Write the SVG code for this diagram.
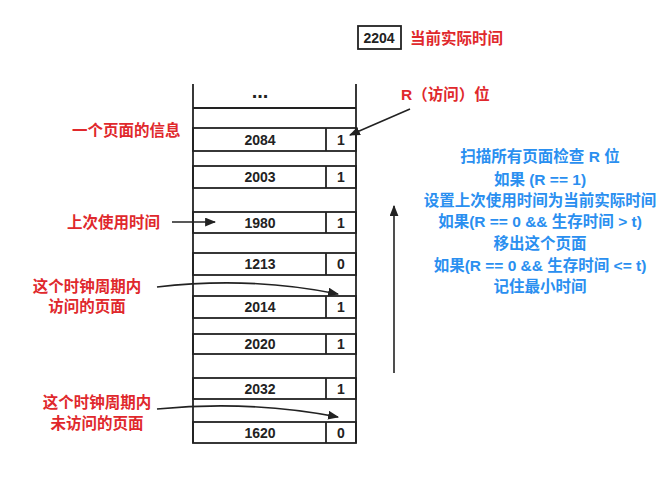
<svg xmlns="http://www.w3.org/2000/svg" width="661" height="481" viewBox="0 0 661 481">
<style>
.ln{stroke:#222;stroke-width:1.8;fill:none}
.num{font-family:"Liberation Sans",Arial,sans-serif;font-weight:bold;font-size:14px;fill:#222;text-anchor:middle}
.red{font-family:"Liberation Sans","Noto Sans CJK SC",sans-serif;font-weight:bold;font-size:15.5px;fill:#e0282c}
.blue{font-family:"Liberation Sans","Noto Sans CJK SC",sans-serif;font-weight:bold;font-size:15.5px;fill:#2a8ff0;text-anchor:middle}
.arr{stroke:#222;stroke-width:1.6;fill:none;marker-end:url(#ah)}
</style>
<defs>
<marker id="ah" viewBox="0 0 10 8" refX="9" refY="4" markerWidth="11" markerHeight="9" markerUnits="userSpaceOnUse" orient="auto">
<path d="M0,0 L10,4 L0,8 z" fill="#222"/>
</marker>
</defs>
<rect width="661" height="481" fill="#fff"/>
<g id="clock">
<text class="num" x="379" y="43">2204</text>
<rect x="358" y="26" width="43" height="23" fill="none" stroke="#222" stroke-width="1.8"/>
<text class="red" x="410" y="43.5">当前实际时间</text>
</g>
<g id="table">
<line class="ln" x1="193" y1="84" x2="193" y2="443"/>
<line class="ln" x1="356" y1="84" x2="356" y2="443"/>
<text class="num" x="260" y="98" style="font-size:20px">...</text>
<line class="ln" x1="193" y1="108" x2="356" y2="108"/>
</g>
<g id="row-2084"><rect class="ln" x="193" y="128" width="163" height="23"/><line class="ln" x1="326" y1="128" x2="326" y2="151"/><text class="num" x="260" y="145">2084</text><text class="num" x="341" y="145">1</text></g>
<g id="row-2003"><rect class="ln" x="193" y="166" width="163" height="22"/><line class="ln" x1="326" y1="166" x2="326" y2="188"/><text class="num" x="260" y="182">2003</text><text class="num" x="341" y="182">1</text></g>
<g id="row-1980"><rect class="ln" x="193" y="212" width="163" height="21"/><line class="ln" x1="326" y1="212" x2="326" y2="233"/><text class="num" x="260" y="227.5">1980</text><text class="num" x="341" y="227.5">1</text></g>
<g id="row-1213"><rect class="ln" x="193" y="253" width="163" height="22"/><line class="ln" x1="326" y1="253" x2="326" y2="275"/><text class="num" x="260" y="269">1213</text><text class="num" x="341" y="269">0</text></g>
<g id="row-2014"><rect class="ln" x="193" y="296" width="163" height="22"/><line class="ln" x1="326" y1="296" x2="326" y2="318"/><text class="num" x="260" y="312">2014</text><text class="num" x="341" y="312">1</text></g>
<g id="row-2020"><rect class="ln" x="193" y="334" width="163" height="20"/><line class="ln" x1="326" y1="334" x2="326" y2="354"/><text class="num" x="260" y="349">2020</text><text class="num" x="341" y="349">1</text></g>
<g id="row-2032"><rect class="ln" x="193" y="378" width="163" height="21"/><line class="ln" x1="326" y1="378" x2="326" y2="399"/><text class="num" x="260" y="393.5">2032</text><text class="num" x="341" y="393.5">1</text></g>
<g id="row-1620"><rect class="ln" x="193" y="422" width="163" height="21"/><line class="ln" x1="326" y1="422" x2="326" y2="443"/><text class="num" x="260" y="437.5">1620</text><text class="num" x="341" y="437.5">0</text></g>
<g id="label-rbit"><text class="red" x="401" y="99.5">R（访问）位</text></g>
<g id="label-page"><text class="red" x="72" y="135.5">一个页面的信息</text></g>
<g id="label-lastused"><text class="red" x="67" y="228">上次使用时间</text></g>
<g id="label-visited"><text class="red" text-anchor="middle" x="87" y="291.5">这个时钟周期内</text><text class="red" text-anchor="middle" x="87" y="312">访问的页面</text></g>
<g id="label-unvisited"><text class="red" text-anchor="middle" x="97" y="408">这个时钟周期内</text><text class="red" text-anchor="middle" x="97" y="428.5">未访问的页面</text></g>
<g id="rules">
<text class="blue" x="540" y="161.5">扫描所有页面检查 R 位</text>
<text class="blue" x="540" y="184.5">如果 (R == 1)</text>
<text class="blue" x="540" y="206">设置上次使用时间为当前实际时间</text>
<text class="blue" x="540" y="226.5">如果(R == 0 &amp;&amp; 生存时间 &gt; t)</text>
<text class="blue" x="540" y="248.5">移出这个页面</text>
<text class="blue" x="540" y="270.5">如果(R == 0 &amp;&amp; 生存时间 &lt;= t)</text>
<text class="blue" x="540" y="291.5">记住最小时间</text>
</g>
<g id="connectors">
<line class="arr" x1="410" y1="109" x2="350" y2="135"/>
<line class="arr" x1="172" y1="222" x2="215" y2="222"/>
<path class="arr" d="M157,287 Q250,276 338,294"/>
<path class="arr" d="M157,409 Q250,400 338,417"/>
<line class="arr" x1="394" y1="373" x2="394" y2="206"/>
</g>
</svg>
